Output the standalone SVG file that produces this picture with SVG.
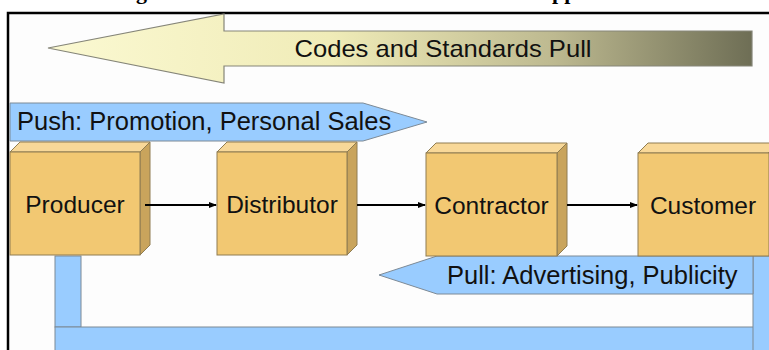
<svg xmlns="http://www.w3.org/2000/svg" width="769" height="350" viewBox="0 0 769 350">
  <style>
    .lbl { font-family: "Liberation Sans", Arial, sans-serif; fill: #111; }
    .title { font-family: "Liberation Serif", "Times New Roman", serif; font-weight: bold; font-size: 22px; fill: #000; }
    .band { fill: #99ccff; stroke: #7d8a96; stroke-width: 1; }
    .front { fill: #f2c872; stroke: #8f7d52; stroke-width: 1; }
    .top { fill: #f8d898; stroke: #8f7d52; stroke-width: 1; }
    .side { fill: #c9a45c; stroke: #8f7d52; stroke-width: 1; }
    .flow { stroke: #000; stroke-width: 2; fill: none; marker-end: url(#head); }
  </style>
  <defs>
    <linearGradient id="codesFill" x1="48" y1="0" x2="752" y2="0" gradientUnits="userSpaceOnUse">
      <stop offset="0" stop-color="#fbf9d2"/>
      <stop offset="0.4" stop-color="#f0ecb8"/>
      <stop offset="0.72" stop-color="#bdb990"/>
      <stop offset="1" stop-color="#6e6e55"/>
    </linearGradient>
    <marker id="head" markerWidth="8" markerHeight="6" refX="7" refY="3" orient="auto" markerUnits="userSpaceOnUse">
      <path d="M0,0 L8,3 L0,6 Z" fill="#000"/>
    </marker>
  </defs>

  <rect width="769" height="350" fill="#ffffff"/>

  <!-- heading line, clipped by the top edge -->
  <text class="title" x="136" y="-1">g</text>
  <text class="title" x="552" y="-1">pp</text>

  <!-- frame -->
  <rect x="8" y="13" width="800" height="400" fill="#fdfdfd" stroke="#000" stroke-width="2.5"/>

  <!-- codes and standards arrow -->
  <g id="codes-pull">
    <path d="M48,48 L224,14 L224,31 L752,31 L752,66 L224,66 L224,83 Z" fill="url(#codesFill)" stroke="#858578" stroke-width="1.2"/>
    <text class="lbl" x="443" y="57" font-size="24" text-anchor="middle" textLength="297" lengthAdjust="spacingAndGlyphs">Codes and Standards Pull</text>
  </g>

  <!-- push band -->
  <g id="push">
    <path class="band" d="M10,103 L363,103 L427,122 L363,141 L10,141 Z"/>
    <text class="lbl" x="17" y="130" font-size="25.5">Push: Promotion, Personal Sales</text>
  </g>

  <!-- return channel bars -->
  <g id="return-path">
    <rect class="band" x="55" y="256" width="26" height="71"/>
    <rect class="band" x="55" y="327" width="730" height="40"/>
    <rect class="band" x="753" y="256" width="30" height="110"/>
  </g>

  <!-- pull band -->
  <g id="pull">
    <path class="band" d="M379,275 L437,256 L753,256 L753,294 L437,294 Z"/>
    <text class="lbl" x="447" y="284" font-size="25.5">Pull: Advertising, Publicity</text>
  </g>

  <!-- channel members -->
  <g id="producer">
    <path class="top" d="M10,152 L20,142 L150,142 L140,152 Z"/>
    <path class="side" d="M140,152 L150,142 L150,245 L140,255 Z"/>
    <rect class="front" x="10" y="152" width="130" height="103"/>
    <text class="lbl" x="75" y="213" font-size="24.5" text-anchor="middle">Producer</text>
  </g>
  <g id="distributor">
    <path class="top" d="M217,152 L227,142 L357,142 L347,152 Z"/>
    <path class="side" d="M347,152 L357,142 L357,245 L347,255 Z"/>
    <rect class="front" x="217" y="152" width="130" height="103"/>
    <text class="lbl" x="282" y="213" font-size="24.5" text-anchor="middle">Distributor</text>
  </g>
  <g id="contractor">
    <path class="top" d="M426,153 L436,143 L567,143 L557,153 Z"/>
    <path class="side" d="M557,153 L567,143 L567,246 L557,256 Z"/>
    <rect class="front" x="426" y="153" width="131" height="103"/>
    <text class="lbl" x="491.5" y="214" font-size="24.5" text-anchor="middle">Contractor</text>
  </g>
  <g id="customer">
    <path class="top" d="M638,153 L648,143 L778,143 L768,153 Z"/>
    <rect class="front" x="638" y="153" width="131" height="103"/>
    <text class="lbl" x="703" y="214" font-size="24.5" text-anchor="middle">Customer</text>
  </g>

  <!-- flow connectors -->
  <g id="connectors">
    <line class="flow" x1="145" y1="205" x2="216" y2="205"/>
    <line class="flow" x1="357" y1="205" x2="425" y2="205"/>
    <line class="flow" x1="567" y1="205" x2="637" y2="205"/>
  </g>
</svg>
